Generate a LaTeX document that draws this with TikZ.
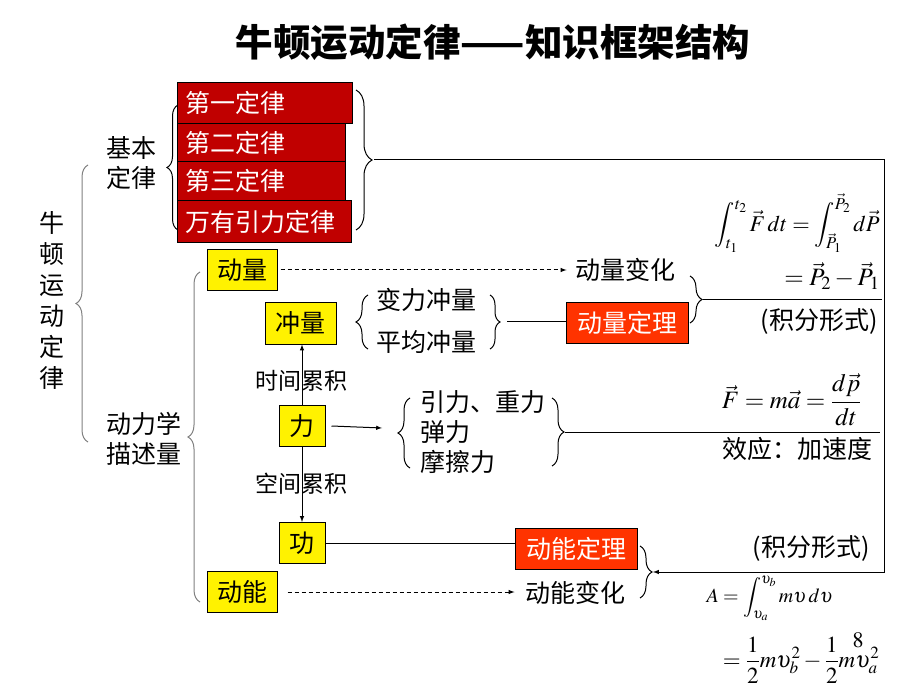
\documentclass[tikz,border=0pt]{standalone}
\usepackage{mathptmx}
\usepackage[no-math]{fontspec}
\setmainfont{Noto Sans CJK SC}
\usetikzlibrary{decorations.pathreplacing}
\definecolor{lawred}{HTML}{C00000}
\definecolor{thmred}{HTML}{FF3300}
\begin{document}
\begin{tikzpicture}[x=1pt, y=-1pt, line width=1pt,
    txt/.style={inner sep=0pt, font=\fontsize{25}{30}\selectfont},
    small/.style={inner sep=0pt, font=\fontsize{23}{27}\selectfont},
    fml/.style={inner sep=0pt, font=\fontsize{22}{26}\selectfont},
    redbox/.style={draw, fill=lawred, text=white, anchor=north west, align=left, inner xsep=8pt, inner ysep=0pt, font=\fontsize{25}{30}\selectfont},
    ybox/.style={draw, fill=yellow, minimum height=41pt, inner sep=0pt, font=\fontsize{25}{30}\selectfont},
    tbox/.style={draw, fill=thmred, text=white, minimum height=41pt, minimum width=122pt, inner sep=0pt, font=\fontsize{25}{30}\selectfont},
    curly/.style={decorate, decoration={brace, amplitude=#1}},
    gcurly/.style={decorate, decoration={brace, amplitude=#1}, draw=gray}]
    \useasboundingbox (0,0) rectangle (903,687);
    % title
    \node[font=\fontsize{37.5}{40}\selectfont\bfseries] (title) at (493,42) {牛顿运动定律——知识框架结构};
    % left side
    \node[txt, align=center, font=\fontsize{25}{31}\selectfont] (nd) at (52,300) {牛\\顿\\运\\动\\定\\律};
    \node[txt, align=left, anchor=west] (jb) at (106,163) {基本\\定律};
    \node[txt, align=left, anchor=west] (dlx) at (106,439) {动力学\\描述量};
    \draw[gcurly=12] (88,442) -- (88,165);
    \draw[curly=11] (178,230) -- (178,105);
    \draw[gcurly=12] (200,602) -- (200,272);
    % laws
    \node[redbox, text width=159pt, minimum height=41pt] (law1) at (177,82) {第一定律};
    \node[redbox, text width=152pt, minimum height=38pt] (law2) at (177,123) {第二定律};
    \node[redbox, text width=152pt, minimum height=39pt] (law3) at (177,161) {第三定律};
    \node[redbox, text width=158pt, minimum height=42pt] (law4) at (177,200) {万有引力定律};
    \draw[curly=16] (356,90) -- (356,230);
    \coordinate (lawtip) at (374,160);
    % quantities
    \node[ybox, minimum width=70pt] (dl) at (242,270) {动量};
    \node[ybox, minimum width=71pt] (cl) at (300.5,323.5) {冲量};
    \node[ybox, minimum width=46pt] (li) at (302,426) {力};
    \node[ybox, minimum width=46pt] (gong) at (302,543) {功};
    \node[ybox, minimum width=70pt] (dn) at (242,592) {动能};
    \node[small] (sj) at (301,381) {时间累积};
    \node[small] (kj) at (301,484) {空间累积};
    \draw[-latex] (li.north) -- (li.north |- cl.south);
    \draw[-latex] (li.south) -- (li.south |- gong.north);
    % impulse
    \node[txt, anchor=west] (bl) at (376,300) {变力冲量};
    \node[txt, anchor=west] (pj) at (376,342) {平均冲量};
    \draw[curly=12] (368,349) -- (368,295);
    \draw[curly=10] (490,295) -- (490,349);
    \coordinate (cltip) at (507,322);
    \node[tbox] (dlthm) at (627,323) {动量定理};
    \draw (cltip) -- (cltip -| dlthm.west);
    \node[txt] (dlbh) at (625,270) {动量变化};
    \draw[dashed, dash pattern=on 4pt off 3pt, -latex, shorten >=8pt] ([xshift=3pt]dl.east) -- (dl.east -| dlbh.west);
    \draw[curly=12] (690,276) -- (690,323);
    \coordinate (dltip) at (703,299.5);
    \coordinate (dlend) at (882,299.5);
    \draw (dltip) -- (dlend);
    \node[fml, anchor=east, font=\fontsize{22.5}{27}\selectfont] (f1) at (880,223) {$\displaystyle\int_{t_1}^{t_2}\vec F\,dt=\int_{\vec P_1}^{\vec P_2}d\vec P$};
    \node[fml, anchor=east, font=\fontsize{25}{30}\selectfont] (f2) at (880,276) {$=\vec P_2-\vec P_1$};
    \node[txt, anchor=east] (jf1) at (878,322) {(积分形式)};
    % forces
    \node[txt, anchor=west] (yl) at (420,402) {引力、重力};
    \node[txt, anchor=west] (tl) at (420,432) {弹力};
    \node[txt, anchor=west] (mc) at (420,462) {摩擦力};
    \coordinate (litip) at (382,428);
    \draw[-latex] ([xshift=6pt]li.east) -- (litip);
    \draw[curly=12] (410,468) -- (410,398);
    \draw[curly=12] (552,398) -- (552,466);
    \coordinate (ltip) at (565,432);
    \coordinate (lend) at (880,432);
    \draw (ltip) -- (lend);
    \node[fml, anchor=east, font=\fontsize{25}{30}\selectfont] (f3) at (862,400) {$\vec F=m\vec a=\displaystyle\frac{d\vec p}{dt}$};
    \node[txt, anchor=east] (xy) at (873,449) {效应：加速度};
    % work and energy
    \node[tbox] (dnthm) at (576,549) {动能定理};
    \draw (gong.east) -- (gong.east -| dnthm.west);
    \node[txt] (dnbh) at (575,593) {动能变化};
    \draw[dashed, dash pattern=on 4pt off 3pt, -latex, shorten >=10pt] ([xshift=10pt]dn.east) -- (dn.east -| dnbh.west);
    \draw[curly=12] (640,546) -- (640,598);
    \coordinate (dntip) at (653,572);
    \draw[-latex] (lawtip) -- (884,160) -- (884,572) -- (dntip);
    \node[txt, anchor=east] (jf2) at (870,548) {(积分形式)};
    \node[fml, anchor=west, font=\fontsize{20}{24}\selectfont] (f4) at (706,598) {$\displaystyle A=\int_{\upsilon_a}^{\upsilon_b}m\upsilon\,d\upsilon$};
    \node[fml, anchor=east, font=\fontsize{23}{27}\selectfont] (f5) at (880,660) {$=\displaystyle\frac{1}{2}m\upsilon_b^2-\frac{1}{2}m\upsilon_a^2$};
    \node[fml] (eight) at (858,640) {$8$};
\end{tikzpicture}
\end{document}
